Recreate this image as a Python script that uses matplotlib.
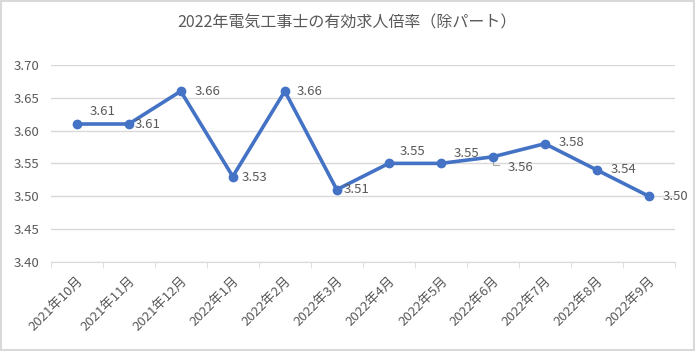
import matplotlib.pyplot as plt
import numpy as np

months = ['2021年10月', '2021年11月', '2021年12月', '2022年1月', '2022年2月', '2022年3月',
          '2022年4月', '2022年5月', '2022年6月', '2022年7月', '2022年8月', '2022年9月']
ratios = [3.61, 3.61, 3.66, 3.53, 3.66, 3.51, 3.55, 3.55, 3.56, 3.58, 3.54, 3.50]
yticks = [3.40, 3.45, 3.50, 3.55, 3.60, 3.65, 3.70]

# label offsets in pixels (dx, dy), mimicking the Excel label placement
offsets = [(26, 13), (19, 0), (27, 0), (22, -1), (25, 0), (20, 0),
           (24, 12), (26, 10), (28, -11), (27, 1), (27, 0), (27, 0)]

plt.rcParams['font.family'] = ['Noto Sans CJK JP', 'DejaVu Sans']
grey = '#595959'
blue = '#4472C4'

fig = plt.figure(figsize=(6.95, 3.51), dpi=100)
ax = fig.add_axes([0.073, 0.254, 0.898, 0.561])

x = np.arange(len(months))
ax.plot(x, ratios, color=blue, lw=2.6, marker='o', ms=6, zorder=3)

for i, (v, (dx, dy)) in enumerate(zip(ratios, offsets)):
    ax.annotate(f'{v:.2f}', (x[i], v), xytext=(dx, dy), textcoords='offset pixels',
                ha='center', va='center', fontsize=9.5, color=grey)
# leader line for the June label
ax.plot([x[8], x[8], x[8] + 0.12], [3.556, 3.547, 3.547], color='#A6A6A6', lw=0.8)

ax.set_xlim(-0.5, len(months) - 0.5)
ax.set_ylim(3.40, 3.70)
ax.set_yticks(yticks)
ax.set_yticklabels([f'{t:.2f}' for t in yticks])
ax.grid(axis='y', color='#D9D9D9', lw=1)
ax.set_axisbelow(True)

ax.set_xticks(x)
ax.set_xticklabels(months, rotation=45, ha='right', va='top', rotation_mode='anchor')
ax.tick_params(axis='x', length=0, pad=9, colors=grey, labelsize=9.5)
ax.set_xticks(np.arange(-0.5, len(months)), minor=True)
ax.tick_params(axis='x', which='minor', length=4, color='#D9D9D9')
ax.tick_params(axis='y', length=0, colors=grey, labelsize=9.5, pad=8)

for s in ['top', 'right', 'left']:
    ax.spines[s].set_visible(False)
ax.spines['bottom'].set_color('#D9D9D9')

fig.text(0.5, 0.935, '2022年電気工事士の有効求人倍率（除パート）', ha='center', va='center',
         fontsize=11.5, color=grey)

fig.patches.append(plt.Rectangle((0.002, 0.003), 0.996, 0.994, transform=fig.transFigure,
                                 fill=False, edgecolor='#D9D9D9', lw=1.5))

fig.savefig('out.png', dpi=100)
